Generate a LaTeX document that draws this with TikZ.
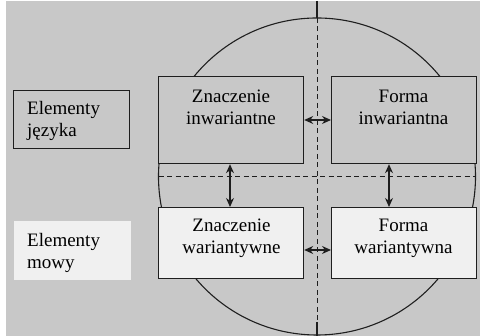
\documentclass[tikz,border=0pt]{standalone}
\usepackage{fontspec}
\setmainfont{Liberation Serif}
\usetikzlibrary{arrows.meta,calc}
\definecolor{bggray}{RGB}{200,200,200}
\definecolor{lightbox}{RGB}{240,240,240}
\definecolor{linec}{RGB}{30,30,30}
\tikzset{
  box/.style={draw=linec, line width=1.2pt, rectangle, inner sep=0pt, anchor=north west},
  txt/.style={inner sep=0pt, align=center, anchor=north, font=\fontsize{19}{22}\selectfont},
  ltxt/.style={inner sep=0pt, align=left, anchor=north west, font=\fontsize{19}{22}\selectfont},
  arr/.style={linec, line width=1.2pt, {Stealth[length=9pt,width=8pt]}-{Stealth[length=9pt,width=8pt]}},
  dline/.style={linec, line width=1pt, dash pattern=on 5pt off 3.5pt},
  sline/.style={linec, line width=1.1pt}
}
\begin{document}
\begin{tikzpicture}[x=1pt,y=1pt]
\useasboundingbox (0,0) rectangle (480,336);
\fill[white] (0,0) rectangle (480,336);
\fill[bggray] (6,0) rectangle (480,335);
% circle
\coordinate (cc) at (317,159.5);
\draw[sline] (cc) circle (158.5);
% vertical axis
\coordinate (vtop) at (317,335);
\coordinate (vc1) at (317,318);
\coordinate (vc2) at (317,14);
\coordinate (vbot) at (317,0);
\draw[sline] (vtop) -- (vc1);
\draw[dline] (vc1) -- (vc2);
\draw[sline] (vc2) -- (vbot);
% horizontal dashed axis
\coordinate (hl) at (158.5,159);
\coordinate (hr) at (475.5,159);
\draw[dline] (hl) -- (hr);
% boxes
\node[box, fill=bggray, minimum width=145pt, minimum height=87pt] (zi) at (158,260) {};
\node[box, fill=bggray, minimum width=145pt, minimum height=87pt] (fi) at (331,260) {};
\node[box, fill=lightbox, minimum width=145pt, minimum height=71pt] (zw) at (158,129) {};
\node[box, fill=lightbox, minimum width=145pt, minimum height=71pt] (fw) at (331,129) {};
\node[box, fill=bggray, minimum width=116pt, minimum height=58pt] (ej) at (13,246) {};
\node[box, draw=none, fill=lightbox, minimum width=117pt, minimum height=59pt] (em) at (13,116) {};
% texts
\node[txt] (zit) at (231,248.7) {\strut Znaczenie\\inwariantne};
\node[txt] (fit) at (403.5,249.2) {\strut Forma\\inwariantna};
\node[txt] (zwt) at (231.5,119.7) {\strut Znaczenie\\wariantywne};
\node[txt] (fwt) at (403.5,119.7) {\strut Forma\\wariantywna};
\node[ltxt] (ejt) at (27,236.7) {\strut Elementy\\języka};
\node[ltxt] (emt) at (27,104.7) {\strut Elementy\\mowy};
% arrows
\draw[arr] (zi.east |- 0,216) -- (fi.west |- 0,216);
\draw[arr] (zw.east |- 0,86) -- (fw.west |- 0,86);
\draw[arr] (zi.south -| 230,0) -- (zw.north -| 230,0);
\draw[arr] (fi.south -| 389,0) -- (fw.north -| 389,0);
\end{tikzpicture}
\end{document}
